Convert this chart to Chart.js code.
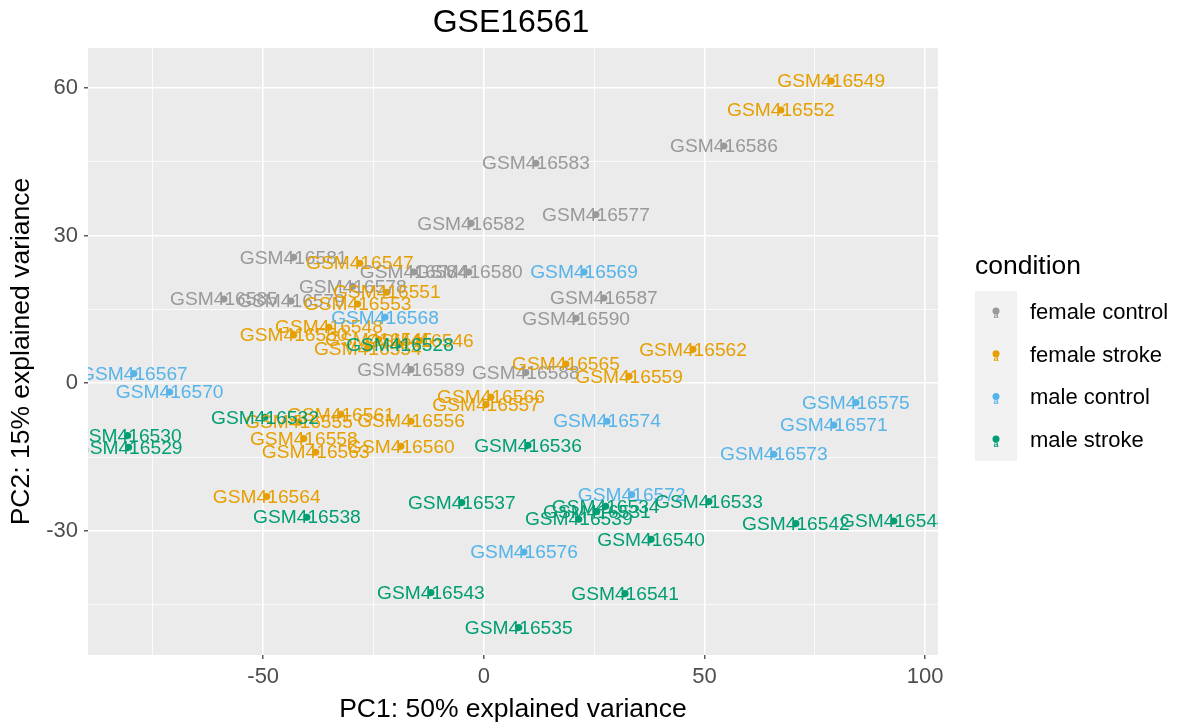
<!DOCTYPE html>
<html>
<head>
<meta charset="utf-8">
<script src="https://cdn.jsdelivr.net/npm/chart.js@4"></script>
<style>
  html, body { margin: 0; padding: 0; background: #fff; }
  #wrap { width: 1181px; height: 727px; }
</style>
</head>
<body>
<div id="wrap"><canvas id="pcaChart" width="1181" height="727"></canvas></div>
<script>
// PCA of GSE16561 samples
const femaleControlIds = ['GSM416577','GSM416578','GSM416579','GSM416580','GSM416581','GSM416582','GSM416583','GSM416584','GSM416585','GSM416586','GSM416587','GSM416588','GSM416589','GSM416590'];
const femaleControlPC1 = [25.4, -29.7, -43.7, -3.4, -43.1, -2.9, 11.8, -15.9, -58.9, 54.4, 27.2, 9.5, -16.5, 20.9];
const femaleControlPC2 = [34.3, 19.7, 16.7, 22.6, 25.6, 32.5, 44.7, 22.6, 17.1, 48.2, 17.3, 2.2, 2.8, 13.2];

const femaleStrokeIds = ['GSM416545','GSM416546','GSM416547','GSM416548','GSM416549','GSM416550','GSM416551','GSM416552','GSM416553','GSM416554','GSM416555','GSM416556','GSM416557','GSM416558','GSM416559','GSM416560','GSM416561','GSM416562','GSM416563','GSM416564','GSM416565','GSM416566'];
const femaleStrokePC1 = [-23.8, -14.5, -28.1, -35.1, 78.7, -43.1, -22.0, 67.3, -28.6, -26.3, -41.9, -16.5, 0.5, -40.8, 32.9, -18.8, -32.4, 47.4, -38.1, -49.2, 18.6, 1.6];
const femaleStrokePC2 = [8.9, 8.7, 24.4, 11.4, 61.4, 9.8, 18.5, 55.5, 16.1, 7.1, -7.9, -7.7, -4.3, -11.2, 1.4, -12.8, -6.3, 6.9, -14.0, -23.0, 3.9, -2.8];

const maleControlIds = ['GSM416567','GSM416568','GSM416569','GSM416570','GSM416571','GSM416572','GSM416573','GSM416574','GSM416575','GSM416576'];
const maleControlPC1 = [-79.3, -22.4, 22.7, -71.2, 79.3, 33.5, 65.7, 27.9, 84.3, 9.1];
const maleControlPC2 = [2.0, 13.4, 22.6, -1.8, -8.5, -22.6, -14.4, -7.7, -3.9, -34.3];

const maleStrokeIds = ['GSM416528','GSM416529','GSM416530','GSM416531','GSM416532','GSM416533','GSM416534','GSM416535','GSM416536','GSM416537','GSM416538','GSM416539','GSM416540','GSM416541','GSM416542','GSM416543','GSM416544'];
const maleStrokePC1 = [-19.0, -80.5, -80.7, 25.6, -49.6, 51.0, 27.6, 7.9, 10.0, -5.0, -40.1, 21.5, 37.9, 32.0, 70.7, -12.0, 92.9];
const maleStrokePC2 = [7.9, -13.0, -10.6, -26.0, -6.9, -24.0, -25.0, -49.6, -12.6, -24.2, -27.2, -27.6, -31.7, -42.7, -28.5, -42.5, -28.0];

const groupNames = ['female control', 'female stroke', 'male control', 'male stroke'];
const groupColors = ['#999999', '#E69F00', '#56B4E9', '#009E73'];

const xTickLabels = [-50, 0, 50, 100];
const yTickLabels = [-30, 0, 30, 60];

const FONT = '"Liberation Sans", Arial, sans-serif';

function toPoints(xs, ys, ids) {
    return xs.map((x, i) => ({ x: x, y: ys[i], id: ids[i] }));
}

const groups = [
    toPoints(femaleControlPC1, femaleControlPC2, femaleControlIds),
    toPoints(femaleStrokePC1, femaleStrokePC2, femaleStrokeIds),
    toPoints(maleControlPC1, maleControlPC2, maleControlIds),
    toPoints(maleStrokePC1, maleStrokePC2, maleStrokeIds)
];

// gray panel behind the grid
const panelBg = {
    id: 'panelBg',
    beforeDraw(chart) {
        const a = chart.chartArea, c = chart.ctx;
        c.save();
        c.fillStyle = '#EBEBEB';
        c.fillRect(a.left, a.top, a.right - a.left, a.bottom - a.top);
        c.restore();
    }
};

// sample names written over the points, clipped to the panel
const pointLabels = {
    id: 'pointLabels',
    afterDatasetsDraw(chart) {
        const a = chart.chartArea, c = chart.ctx;
        c.save();
        c.beginPath();
        c.rect(a.left, a.top, a.right - a.left, a.bottom - a.top);
        c.clip();
        c.font = '19.2px ' + FONT;
        c.textAlign = 'center';
        c.textBaseline = 'middle';
        chart.data.datasets.forEach((ds, di) => {
            const meta = chart.getDatasetMeta(di);
            c.fillStyle = ds.borderColor;
            meta.data.forEach((el, i) => {
                c.fillText(ds.data[i].id, el.x, el.y + 1);
            });
        });
        c.restore();
    }
};

// title and ggplot-like legend
const extras = {
    id: 'extras',
    afterDraw(chart) {
        const c = chart.ctx;
        c.save();
        c.fillStyle = '#000';
        c.textAlign = 'center';
        c.textBaseline = 'middle';
        c.font = '32px ' + FONT;
        c.fillText('GSE16561', 511, 23);

        c.textAlign = 'left';
        c.font = '26.5px ' + FONT;
        c.fillText('condition', 975, 267);

        c.fillStyle = '#F2F2F2';
        c.fillRect(975, 291, 42, 170);

        groupNames.forEach((name, i) => {
            const y = 313 + i * 42.7;
            c.fillStyle = groupColors[i];
            c.beginPath();
            c.arc(996, y - 2, 3.5, 0, Math.PI * 2);
            c.fill();
            c.font = 'bold 9px ' + FONT;
            c.textAlign = 'center';
            c.fillText('a', 996, y + 3);
            c.fillStyle = '#000';
            c.font = '22px ' + FONT;
            c.textAlign = 'left';
            c.fillText(name, 1030, y);
        });
        c.restore();
    }
};

function isMajor(v, step) {
    return Math.abs(v % step) < 1e-6;
}

const ctx = document.getElementById('pcaChart').getContext('2d');

const pcaChart = new Chart(ctx, {
    type: 'scatter',
    data: {
        datasets: groups.map((pts, i) => ({
            label: groupNames[i],
            data: pts,
            backgroundColor: groupColors[i],
            borderColor: groupColors[i],
            pointRadius: 3.5,
            pointBorderWidth: 0,
            pointHoverRadius: 3.5
        }))
    },
    options: {
        responsive: false,
        animation: false,
        layout: { padding: { left: 0, right: 243, top: 48, bottom: 0 } },
        plugins: {
            legend: { display: false },
            tooltip: { enabled: false }
        },
        scales: {
            x: {
                type: 'linear',
                min: -89.7,
                max: 102.9,
                afterFit(scale) { scale.height = 72; },
                border: { display: false },
                grid: {
                    color: '#FFFFFF',
                    lineWidth: c => (c.tick && isMajor(c.tick.value, 50)) ? 1.6 : 0.8,
                    tickColor: c => (c.tick && isMajor(c.tick.value, 50)) ? '#333333' : 'rgba(0,0,0,0)',
                    tickWidth: 1.2,
                    tickLength: 4
                },
                ticks: {
                    stepSize: 25,
                    includeBounds: false,
                    autoSkip: false,
                    maxRotation: 0,
                    color: '#4D4D4D',
                    font: { family: FONT, size: 22 },
                    padding: 5,
                    callback: v => xTickLabels.includes(v) ? String(v) : ''
                },
                title: {
                    display: true,
                    text: 'PC1: 50% explained variance',
                    color: '#000',
                    font: { family: FONT, size: 26.5 },
                    padding: { top: 0, bottom: 1 }
                }
            },
            y: {
                type: 'linear',
                min: -55.2,
                max: 68.1,
                afterFit(scale) { scale.width = 88; },
                border: { display: false },
                grid: {
                    color: '#FFFFFF',
                    lineWidth: c => (c.tick && isMajor(c.tick.value, 30)) ? 1.6 : 0.8,
                    tickColor: c => (c.tick && isMajor(c.tick.value, 30)) ? '#333333' : 'rgba(0,0,0,0)',
                    tickWidth: 1.2,
                    tickLength: 4
                },
                ticks: {
                    stepSize: 15,
                    includeBounds: false,
                    autoSkip: false,
                    color: '#4D4D4D',
                    font: { family: FONT, size: 22 },
                    padding: 6,
                    callback: v => yTickLabels.includes(v) ? String(v) : ''
                },
                title: {
                    display: true,
                    text: 'PC2: 15% explained variance',
                    color: '#000',
                    font: { family: FONT, size: 26.5 },
                    padding: { top: 6, bottom: 0 }
                }
            }
        }
    },
    plugins: [panelBg, pointLabels, extras]
});
</script>
</body>
</html>
